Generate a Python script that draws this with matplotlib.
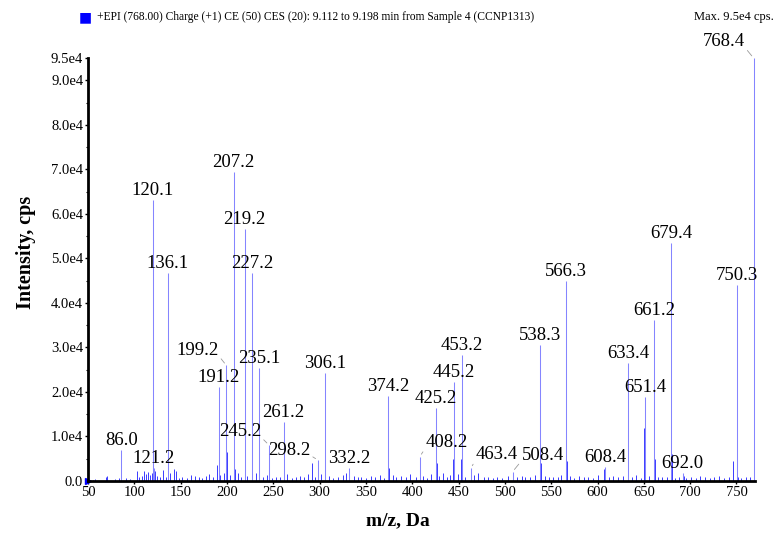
import numpy as np
import matplotlib.pyplot as plt
from matplotlib.ticker import FixedLocator, FuncFormatter, MultipleLocator

# labelled peaks (m/z, intensity in cps)
peak_mz = [86.0, 120.1, 121.2, 136.1, 191.2, 199.2, 207.2, 219.2, 227.2, 235.1,
           245.2, 261.2, 298.2, 306.1, 332.2, 374.2, 408.2, 425.2, 445.2, 453.2,
           463.4, 508.4, 538.3, 566.3, 608.4, 633.4, 651.4, 661.2, 679.4, 692.0,
           750.3, 768.4]
peak_int = [7000, 63100, 2900, 46700, 21200, 26000, 69500, 56600, 46700, 25400,
            8100, 13300, 4700, 24300, 2900, 19100, 5500, 16400, 22300, 28300,
            2900, 2100, 30500, 45000, 3200, 26500, 18900, 36200, 53500, 1800,
            44000, 95000]

# unlabelled minor peaks / isotopes / baseline
minor_mz = [50.5, 55, 58, 69, 71, 79, 84, 91, 95, 103, 105, 108, 110, 113, 115, 117,
            119, 122.3, 125, 128, 131, 134, 139, 143, 145, 148, 152, 157, 161, 165,
            170, 173, 177, 181, 185, 189.5, 193, 197, 200.2, 203, 209, 212, 215, 222,
            231, 239, 243, 249, 253, 257, 265, 270, 275, 279, 283, 287, 291.5, 295,
            302, 310, 315, 320, 325, 328, 337, 341, 345, 350, 356, 360, 365, 369,
            375.2, 379, 383, 388, 393, 398, 404, 412, 416, 420, 426.2, 429, 433, 437,
            441, 444.2, 449, 452.2, 457, 467, 471, 477, 482, 487, 492, 497, 503, 513,
            518, 522, 527, 533, 539.3, 543, 548, 552, 557, 561, 567.3, 570, 575, 580,
            585, 590, 595, 601, 607.4, 612, 617, 622, 627, 632.5, 637, 642, 647,
            650.5, 656, 662.2, 665, 670, 675, 680.4, 684, 688, 693, 696, 701, 706,
            711, 716, 721, 726, 731, 737, 742, 746, 751.3, 755, 760, 765, 769.4]
minor_int = [1500, 300, 400, 900, 1100, 500, 600, 700, 400, 2300, 900, 1200, 2200,
             1500, 2000, 1400, 1800, 2200, 1200, 900, 2500, 1000, 1900, 2600, 2200,
             700, 900, 600, 1400, 1200, 800, 600, 1100, 1500, 900, 3500, 1300, 1700,
             6500, 1400, 2600, 1800, 1000, 1200, 1800, 900, 1300, 700, 1000, 800,
             1600, 600, 900, 1200, 800, 1600, 4000, 900, 1500, 1200, 700, 900, 1300,
             1800, 1200, 800, 1000, 700, 1100, 900, 1400, 700, 3000, 1300, 800, 1200,
             1000, 1500, 900, 1100, 700, 1500, 4000, 1200, 1800, 1000, 1400, 5000,
             1500, 5000, 900, 1300, 1700, 800, 1000, 600, 900, 700, 1100, 900, 1200,
             800, 1000, 1400, 4000, 1100, 800, 900, 1000, 1300, 4500, 1100, 700, 1200,
             800, 900, 700, 1300, 2800, 900, 1200, 800, 1100, 17000, 900, 1300, 700,
             12000, 1100, 5000, 800, 900, 1000, 6000, 700, 900, 1200, 600, 800, 700,
             1100, 900, 600, 800, 1200, 700, 900, 4500, 800, 700, 900, 900, 3000]

# label placement: pixel offset of the text centre from the peak top, for
# labels drawn with a leader line
label_shift = {
    199.2: (-29, 15), 245.2: (-29, 13), 298.2: (-29, 10), 408.2: (27, 14),
    463.4: (26, 14), 508.4: (30, 16), 768.4: (-30, 16),
}

serif = ['Liberation Serif', 'DejaVu Serif']
plt.rcParams['font.family'] = serif

fig = plt.figure(figsize=(7.76, 5.34), dpi=100)
ax = fig.add_axes([88 / 776, 1 - 481 / 534, 667 / 776, 423 / 534])

ax.vlines(minor_mz, 0, minor_int, color='#3a3aff', lw=0.7)
ax.vlines(peak_mz, 0, peak_int, color='#8585ff', lw=0.75, clip_on=False)
# blue start marker at the origin
ax.plot([50], [0], marker='>', color='blue', ms=4, clip_on=False)

for mz, h in zip(peak_mz, peak_int):
    txt = f'{mz:.1f}'
    if mz in label_shift:
        dx, dy = label_shift[mz]
        rel = (1.0, 0.2) if dx < 0 else (0.0, 0.2)
        ax.annotate(txt, xy=(mz, h), xytext=(dx, dy), textcoords='offset pixels',
                    ha='center', va='center', fontsize=13.5,
                    arrowprops=dict(arrowstyle='-', color='#999999', lw=0.6,
                                    relpos=rel, shrinkA=0, shrinkB=2),
                    annotation_clip=False)
    else:
        ax.annotate(txt, xy=(mz, h), xytext=(0, 1), textcoords='offset pixels',
                    ha='center', va='bottom', fontsize=13.5, annotation_clip=False)

ax.set_xlim(50, 770)
ax.set_ylim(0, 95000)

ax.xaxis.set_major_locator(MultipleLocator(50))
ax.yaxis.set_major_locator(FixedLocator([0, 1e4, 2e4, 3e4, 4e4, 5e4, 6e4, 7e4,
                                         8e4, 9e4, 9.5e4]))
ax.yaxis.set_minor_locator(MultipleLocator(5000))
ax.yaxis.set_major_formatter(FuncFormatter(
    lambda v, p: '0.0' if v == 0 else f'{v / 1e4:.1f}e4'))

for s in ['top', 'right']:
    ax.spines[s].set_visible(False)
for s in ['left', 'bottom']:
    ax.spines[s].set_linewidth(2.0)

ax.tick_params(axis='both', which='major', labelsize=10.5, length=2, width=1,
               pad=1.5)
ax.tick_params(axis='y', which='minor', length=1.5, width=0.8)

ax.set_xlabel('m/z, Da', fontsize=14, fontweight='bold')
ax.xaxis.set_label_coords((398 - 88) / 667, (481 - 512) / 423)
ax.set_ylabel('Intensity, cps', fontsize=14.5, fontweight='bold')
ax.yaxis.set_label_coords((36 - 88) / 667, (481 - 252) / 423)

# header line
fig.text(85 / 776, 1 - 17 / 534, '\u25A0', color='blue', fontsize=10,
         ha='center', va='center', family='DejaVu Sans')
fig.text(97 / 776, 1 - 17 / 534,
         '+EPI (768.00) Charge (+1) CE (50) CES (20): 9.112 to 9.198 min from '
         'Sample 4 (CCNP1313)', fontsize=8.3, ha='left', va='center')
fig.text(774 / 776, 1 - 17 / 534, 'Max. 9.5e4 cps.', fontsize=9.0,
         ha='right', va='center')

fig.savefig('out.png', dpi=100)
